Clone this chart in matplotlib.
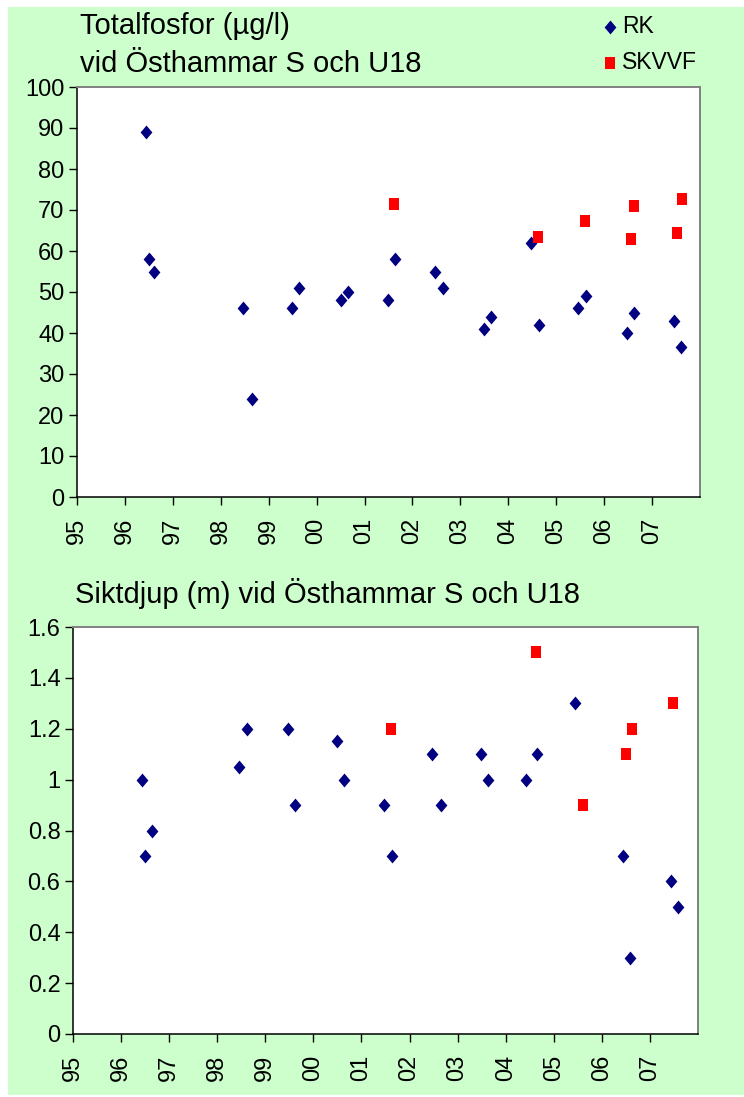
import matplotlib
matplotlib.use('Agg')
import matplotlib.pyplot as plt
from matplotlib.patches import Rectangle
from matplotlib.path import Path
from matplotlib.ticker import FormatStrFormatter

plt.rcParams['font.family'] = ['Liberation Sans', 'DejaVu Sans']

# decimal years for the sampling dates
tp_rk_x = [1996.44, 1996.51, 1996.61, 1998.47, 1998.65, 1999.49, 1999.63, 2000.51, 2000.65,
           2001.49, 2001.63, 2002.46, 2002.64, 2003.49, 2003.63, 2004.47, 2004.64, 2005.46,
           2005.63, 2006.48, 2006.62, 2007.45, 2007.60]
tp_rk_y = [89, 58, 55, 46, 24, 46, 51, 48, 50, 48, 58, 55, 51, 41, 44, 62, 42, 46, 49, 40, 45, 43, 36.7]
tp_sk_x = [2001.61, 2004.62, 2005.61, 2006.55, 2006.63, 2007.51, 2007.62]
tp_sk_y = [71.4, 63.5, 67.4, 63.0, 70.9, 64.4, 72.8]

sd_rk_x = [1996.43, 1996.50, 1996.64, 1998.45, 1998.62, 1999.47, 1999.61, 2000.49, 2000.63,
           2001.47, 2001.64, 2002.47, 2002.65, 2003.49, 2003.63, 2004.43, 2004.65, 2005.45,
           2006.43, 2006.59, 2007.44, 2007.59]
sd_rk_y = [1.0, 0.7, 0.8, 1.05, 1.2, 1.2, 0.9, 1.15, 1.0, 0.9, 0.7, 1.1, 0.9, 1.1, 1.0, 1.0, 1.1, 1.3,
           0.7, 0.3, 0.6, 0.5]
sd_sk_x = [2001.62, 2004.62, 2005.61, 2006.51, 2006.62, 2007.49]
sd_sk_y = [1.2, 1.5, 0.9, 1.1, 1.2, 1.3]

years = list(range(1995, 2008))
year_labels = ['%02d' % (y % 100) for y in years]

W, H = 744, 1097
fig = plt.figure(figsize=(W / 100, H / 100), dpi=100)
fig.patch.set_facecolor('white')
fig.patches.append(Rectangle((8 / W, 2 / H), 1 - 8 / W, 1088 / H, transform=fig.transFigure,
                             facecolor='#CCFFCC', edgecolor='none', zorder=-10))

diamond = Path([(0, 1), (0.85, 0), (0, -1), (-0.85, 0), (0, 1)],
               [Path.MOVETO, Path.LINETO, Path.LINETO, Path.LINETO, Path.CLOSEPOLY])
square = Path([(-0.75, -1), (0.75, -1), (0.75, 1), (-0.75, 1), (-0.75, -1)],
              [Path.MOVETO, Path.LINETO, Path.LINETO, Path.LINETO, Path.CLOSEPOLY])


def px_axes(l, r, t, b):
    return fig.add_axes([l / W, 1 - b / H, (r - l) / W, (b - t) / H])


def style(ax):
    ax.set_facecolor('white')
    ax.set_xlim(1995, 2008)
    ax.set_xticks(years)
    ax.set_xticklabels(year_labels, rotation=90)
    for s in ['left', 'bottom']:
        ax.spines[s].set_color('black')
        ax.spines[s].set_linewidth(1.1)
    for s in ['top', 'right']:
        ax.spines[s].set_color('#808080')
        ax.spines[s].set_linewidth(1.4)
    ax.tick_params(direction='out', length=6, width=1, color='black', labelsize=17)
    ax.tick_params(axis='x', pad=9)
    ax.tick_params(axis='y', pad=3)


ax1 = px_axes(77, 700, 87, 497)
style(ax1)
h1 = ax1.scatter(tp_rk_x, tp_rk_y, marker=diamond, s=100, color='#000080', linewidths=0, zorder=3)
h2 = ax1.scatter(tp_sk_x, tp_sk_y, marker=square, s=82, color='#FF0000', linewidths=0, zorder=3)
ax1.set_ylim(0, 100)
ax1.set_yticks(range(0, 101, 10))

ax2 = px_axes(73, 698, 627, 1034)
style(ax2)
ax2.scatter(sd_rk_x, sd_rk_y, marker=diamond, s=100, color='#000080', linewidths=0, zorder=3)
ax2.scatter(sd_sk_x, sd_sk_y, marker=square, s=82, color='#FF0000', linewidths=0, zorder=3)
ax2.set_ylim(0, 1.6)
ax2.set_yticks([0, 0.2, 0.4, 0.6, 0.8, 1.0, 1.2, 1.4, 1.6])
ax2.yaxis.set_major_formatter(FormatStrFormatter('%g'))

fig.text(80 / W, 1 - 34 / H, 'Totalfosfor (µg/l)', fontsize=21, va='baseline')
fig.text(80 / W, 1 - 72 / H, 'vid Östhammar S och U18', fontsize=21, va='baseline')
fig.text(75 / W, 1 - 603 / H, 'Siktdjup (m) vid Östhammar S och U18', fontsize=21, va='baseline')

fig.legend([h1, h2], ['RK', 'SKVVF'], loc='upper left', bbox_to_anchor=(601 / W, 1 - 15 / H),
           frameon=False, fontsize=16.5, handlelength=0.75, handletextpad=0.15,
           labelspacing=0.55, borderpad=0, borderaxespad=0, scatterpoints=1)

fig.savefig('out.png', dpi=100, facecolor=fig.get_facecolor())
